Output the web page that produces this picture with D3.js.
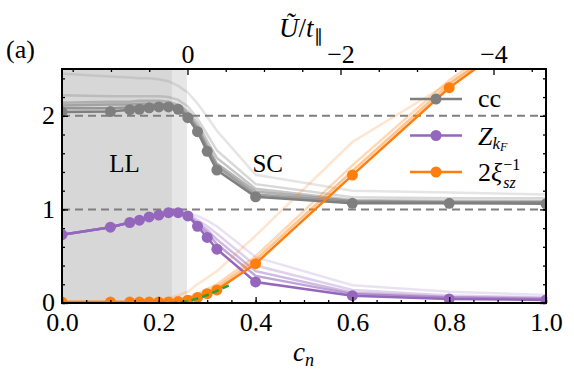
<!DOCTYPE html>
<head>
  <meta charset="utf-8">
  <script src="https://cdn.jsdelivr.net/npm/d3@7"></script>
  <style>
    body { margin: 0; background: #fff; }
    text { font-family: "Liberation Serif", "Times New Roman", serif; }
  </style>
</head>
<body>
<div id="container"></div>
<script>
  // chart size
  const width = 574;
  const height = 372;
  const margin = {top: 69, right: 28, bottom: 69, left: 62};
  const w = width - margin.left - margin.right;
  const h = height - margin.top - margin.bottom;
  const serif = '"Liberation Serif", "Times New Roman", serif';

  // data
  const cn = [0, 0.1, 0.14, 0.16, 0.18, 0.2, 0.22, 0.24, 0.26, 0.28, 0.3, 0.32, 0.4, 0.6, 0.8, 1.0];

  const ccMain = [2.04, 2.045, 2.065, 2.07, 2.085, 2.095, 2.095, 2.07, 1.98, 1.83, 1.62, 1.42, 1.135, 1.065, 1.065, 1.06];
  const zMain  = [0.73, 0.81, 0.86, 0.885, 0.92, 0.94, 0.965, 0.965, 0.93, 0.82, 0.70, 0.575, 0.225, 0.078, 0.043, 0.032];
  const xiMain = [0.01, 0.01, 0.01, 0.01, 0.01, 0.01, 0.012, 0.015, 0.03, 0.06, 0.1, 0.14, 0.42, 1.367, 2.30, 3.05];

  // faint (lighter) curves, lightest first
  const ccFaint = [
    [2.45, 2.42, 2.41, 2.40, 2.40, 2.39, 2.37, 2.32, 2.25, 2.13, 1.99, 1.84, 1.37, 1.20, 1.18, 1.16],
    [2.22, 2.21, 2.21, 2.21, 2.21, 2.21, 2.2, 2.17, 2.10, 1.97, 1.80, 1.63, 1.27, 1.13, 1.12, 1.12],
    [2.14, 2.15, 2.15, 2.16, 2.16, 2.16, 2.15, 2.12, 2.05, 1.92, 1.73, 1.55, 1.22, 1.10, 1.09, 1.09],
    [2.11, 2.12, 2.12, 2.13, 2.13, 2.13, 2.12, 2.10, 2.02, 1.88, 1.68, 1.49, 1.19, 1.09, 1.08, 1.08],
    [2.08, 2.08, 2.09, 2.10, 2.11, 2.11, 2.11, 2.08, 2.00, 1.86, 1.65, 1.46, 1.16, 1.08, 1.07, 1.07]
  ];
  const zFaint = [
    [0.73, 0.81, 0.86, 0.885, 0.92, 0.94, 0.965, 0.97, 0.96, 0.93, 0.88, 0.82, 0.49, 0.19, 0.12, 0.085],
    [0.73, 0.81, 0.86, 0.885, 0.92, 0.94, 0.965, 0.97, 0.95, 0.89, 0.82, 0.74, 0.40, 0.14, 0.08, 0.06],
    [0.73, 0.81, 0.86, 0.885, 0.92, 0.94, 0.965, 0.965, 0.94, 0.86, 0.78, 0.68, 0.34, 0.11, 0.065, 0.05],
    [0.73, 0.81, 0.86, 0.885, 0.92, 0.94, 0.965, 0.965, 0.935, 0.84, 0.75, 0.63, 0.29, 0.095, 0.055, 0.04]
  ];
  const xiFaint = [
    [0.01, 0.01, 0.01, 0.01, 0.02, 0.03, 0.05, 0.08, 0.12, 0.2, 0.27, 0.34, 0.72, 1.72, 2.35, 3.0],
    [0.01, 0.01, 0.01, 0.01, 0.01, 0.015, 0.02, 0.035, 0.06, 0.1, 0.15, 0.2, 0.5, 1.47, 2.38, 3.1],
    [0.01, 0.01, 0.01, 0.01, 0.01, 0.01, 0.015, 0.025, 0.045, 0.08, 0.12, 0.17, 0.46, 1.41, 2.34, 3.08]
  ];
  const faintAlpha = [0.2, 0.3, 0.45, 0.6, 0.75];

  // green dashed fit
  const fitCn  = [0.2, 0.22, 0.24, 0.26, 0.28, 0.3, 0.32, 0.35];
  const fitVal = [0.0, 0.0, 0.005, 0.02, 0.048, 0.085, 0.13, 0.2];

  // shaded regions (LL)
  const llEdge = 0.227;
  const crossEdge = 0.258;

  // ticks
  const xMajor = [0, 0.2, 0.4, 0.6, 0.8, 1.0];
  const xMinor = d3.range(0, 1.001, 0.05);
  const yMajor = [0, 1, 2];
  const yMinor = d3.range(0, 2.501, 0.2);
  const topMajor = [0, -2, -4];
  const topMinor = [1.5, 1, 0.5, -0.5, -1, -1.5, -2.5, -3, -3.5, -4.5];
  const refLines = [1, 2];

  const gray = '#7f7f7f', purple = '#9467bd', orange = '#ff7f0e', green = '#2ca02c';

  const svg = d3.select('div#container').append('svg')
    .attr('width', width)
    .attr('height', height)
    .style('font-family', serif);

  const g = svg.append('g')
    .attr('transform', `translate(${margin.left},${margin.top})`);

  const x = d3.scaleLinear().domain([0, 1]).range([0, w]);
  const y = d3.scaleLinear().domain([0, 2.5]).range([h, 0]);
  const xTop = d3.scaleLinear().domain([1.64, -4.686]).range([0, w]);

  g.append('clipPath').attr('id', 'clip')
    .append('rect').attr('width', w).attr('height', h);

  const plot = g.append('g').attr('clip-path', 'url(#clip)');

  // shading
  plot.append('rect')
    .attr('x', x(0)).attr('y', 0)
    .attr('width', x(crossEdge) - x(0)).attr('height', h)
    .style('fill', '#e6e6e6');
  plot.append('rect')
    .attr('x', x(0)).attr('y', 0)
    .attr('width', x(llEdge) - x(0)).attr('height', h)
    .style('fill', '#d7d7d7');

  // dashed reference lines
  plot.selectAll('.ref')
    .data(refLines)
    .enter().append('line')
      .attr('x1', 0).attr('x2', w)
      .attr('y1', d => y(d)).attr('y2', d => y(d))
      .style('stroke', gray)
      .style('stroke-width', 2)
      .style('stroke-dasharray', '8,5');

  const line = d3.line()
    .x((d, i) => x(cn[i]))
    .y(d => y(d));

  function faint(series, color) {
    plot.selectAll(null)
      .data(series)
      .enter().append('path')
        .attr('d', d => line(d))
        .style('fill', 'none')
        .style('stroke', color)
        .style('stroke-width', 2.5)
        .style('stroke-opacity', (d, i) => faintAlpha[i]);
  }
  faint(ccFaint, gray);
  faint(zFaint, purple);
  faint(xiFaint, orange);

  function mainSeries(vals, color) {
    plot.append('path')
      .attr('d', line(vals))
      .style('fill', 'none')
      .style('stroke', color)
      .style('stroke-width', 2.5);
    plot.selectAll(null)
      .data(vals)
      .enter().append('circle')
        .attr('cx', (d, i) => x(cn[i]))
        .attr('cy', d => y(d))
        .attr('r', 5.5)
        .style('fill', color);
  }
  mainSeries(ccMain, gray);
  mainSeries(zMain, purple);
  mainSeries(xiMain, orange);

  // green fit
  plot.append('path')
    .attr('d', d3.line().x((d, i) => x(fitCn[i])).y(d => y(d))(fitVal))
    .style('fill', 'none')
    .style('stroke', green)
    .style('stroke-width', 2.5)
    .style('stroke-dasharray', '7,4');

  // axes, ticks pointing inward
  const fmtX = d => d3.format('.1f')(d);
  const fmtY = d => d3.format('d')(d);
  const fmtTop = d => d === 0 ? '0' : '\u2212' + Math.abs(d);

  function addAxis(axis, transform) {
    const a = g.append('g').attr('transform', transform).call(axis);
    a.attr('font-family', serif).attr('font-size', 26);
    a.select('.domain').remove();
    a.selectAll('line').style('stroke', '#000').style('stroke-width', 1.3);
    a.selectAll('text').style('fill', '#000');
    return a;
  }

  addAxis(d3.axisBottom(x).tickValues(xMajor).tickSize(-6).tickPadding(10).tickFormat(fmtX), `translate(0,${h})`);
  addAxis(d3.axisBottom(x).tickValues(xMinor).tickSize(-3).tickFormat(''), `translate(0,${h})`);
  const yl = addAxis(d3.axisLeft(y).tickValues(yMajor).tickSize(-6).tickPadding(7).tickFormat(fmtY), 'translate(0,0)');
  yl.selectAll('text').attr('dy', '0.3em');
  addAxis(d3.axisLeft(y).tickValues(yMinor).tickSize(-3).tickFormat(''), 'translate(0,0)');
  addAxis(d3.axisRight(y).tickValues(yMajor).tickSize(-6).tickFormat(''), `translate(${w},0)`);
  addAxis(d3.axisRight(y).tickValues(yMinor).tickSize(-3).tickFormat(''), `translate(${w},0)`);
  addAxis(d3.axisTop(xTop).tickValues(topMajor).tickSize(-6).tickPadding(6).tickFormat(fmtTop), 'translate(0,0)');
  addAxis(d3.axisTop(xTop).tickValues(topMinor).tickSize(-3).tickFormat(''), 'translate(0,0)');

  // frame
  g.append('rect')
    .attr('width', w).attr('height', h)
    .style('fill', 'none')
    .style('stroke', '#000')
    .style('stroke-width', 2);

  // region labels
  g.append('text').attr('x', x(0.129)).attr('y', y(1.5) + 9)
    .attr('text-anchor', 'middle').style('font-size', '25px').text('LL');
  g.append('text').attr('x', x(0.425)).attr('y', y(1.5) + 9)
    .attr('text-anchor', 'middle').style('font-size', '25px').text('SC');

  // legend
  const legend = svg.append('g').attr('transform', 'translate(410,99)');
  const legendColors = [gray, purple, orange];
  const legendRow = legend.selectAll('.leg')
    .data(legendColors)
    .enter().append('g')
      .attr('transform', (d, i) => `translate(0,${i * 36.5})`);
  legendRow.append('line')
    .attr('x1', 0).attr('x2', 52)
    .style('stroke', d => d)
    .style('stroke-width', 2.5);
  legendRow.append('circle')
    .attr('cx', 26).attr('r', 5.5)
    .style('fill', d => d);

  legend.append('text').attr('x', 68).attr('y', 8).style('font-size', '26px').text('cc');

  const zt = legend.append('text').attr('x', 68).attr('y', 36.5 + 9).style('font-size', '26px');
  zt.append('tspan').style('font-style', 'italic').text('Z');
  zt.append('tspan').style('font-style', 'italic').style('font-size', '17px').attr('dy', 4).text('k');
  zt.append('tspan').style('font-style', 'italic').style('font-size', '12px').attr('dy', 2).text('F');

  const xt = legend.append('text').attr('x', 68).attr('y', 73 + 9).style('font-size', '26px');
  xt.append('tspan').text('2');
  xt.append('tspan').style('font-style', 'italic').text('ξ');
  xt.append('tspan').style('font-size', '16px').attr('dx', 1).attr('dy', -11).text('\u22121');
  xt.append('tspan').style('font-size', '16px').style('font-style', 'italic')
    .attr('dx', -17).attr('dy', 18).text('sz');

  // axis titles
  const ct = svg.append('text').attr('x', 293).attr('y', 361).style('font-size', '27px');
  ct.append('tspan').style('font-style', 'italic').text('c');
  ct.append('tspan').style('font-style', 'italic').style('font-size', '18px').attr('dy', 5).text('n');

  const ut = svg.append('text').attr('x', 279).attr('y', 37).style('font-size', '27px');
  ut.append('tspan').style('font-style', 'italic').text('Ũ');
  ut.append('tspan').text('/');
  ut.append('tspan').style('font-style', 'italic').text('t');
  ut.append('tspan').style('font-size', '18px').attr('dy', 5).text('∥');

  svg.append('text').attr('x', 6).attr('y', 58).style('font-size', '26px').text('(a)');
</script>
</body>
